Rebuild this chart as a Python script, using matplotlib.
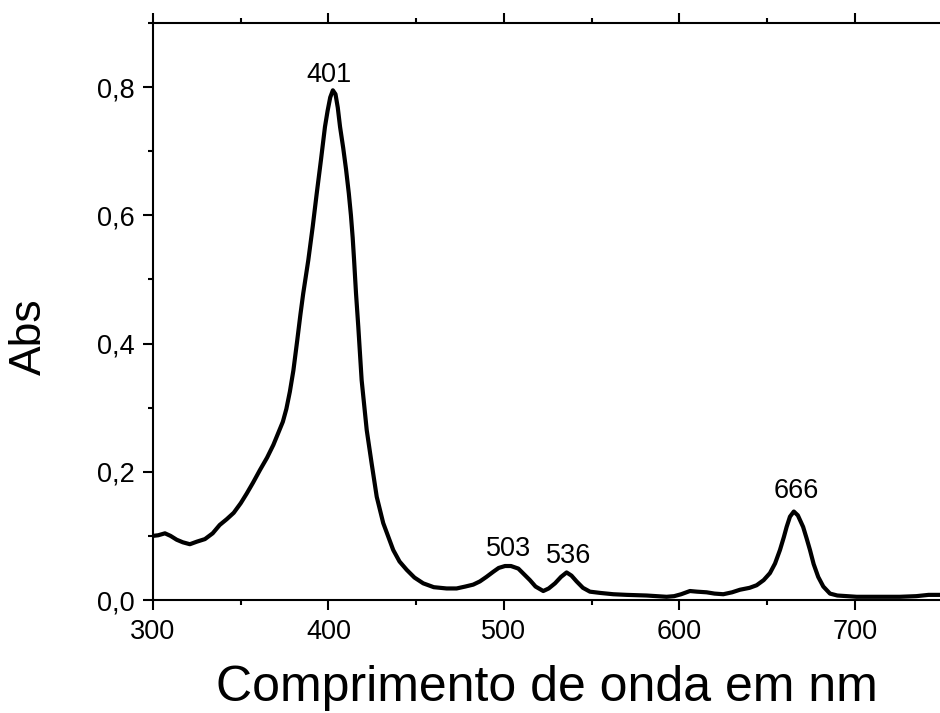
import matplotlib
matplotlib.use("Agg")
import matplotlib.pyplot as plt
from matplotlib.ticker import MultipleLocator, FuncFormatter

plt.rcParams['font.family'] = ['Liberation Sans', 'DejaVu Sans']

wavelength = [300, 303, 306.8, 310, 313.5, 317, 321, 325, 329.6, 334, 338, 342, 346, 350,
              353.4, 357, 361, 365, 368.6, 371, 374, 376, 378, 380, 382.2, 384, 385.6,
              388.5, 391, 393.3, 395.7, 398, 399.5, 401, 402.5, 404, 405.3, 406.6, 408.4,
              410, 411.6, 412.8, 413.8, 414.6, 415.7, 417, 418.9, 421.8, 424.6, 427.5,
              431.2, 436.9, 440.5, 444.6, 449, 454, 460, 467.3, 473, 478, 482.5, 486.3,
              490, 493.9, 497, 500.6, 504, 508.2, 511.5, 514.8, 518, 522.4, 525.5, 529.1,
              532.5, 535.7, 538.5, 541.4, 545, 549, 555, 562.3, 570, 581.3, 592.7, 597,
              601, 606, 610, 615.5, 620, 625, 630, 634.5, 640, 644, 648, 651.6, 654.5,
              657.3, 659.5, 661.1, 663, 665.2, 667.5, 670.5, 672.5, 674.4, 676.5, 679.1,
              682, 685.8, 690, 701, 710, 725.6, 735, 742, 750]
absorbance = [0.100, 0.101, 0.104, 0.100, 0.094, 0.090, 0.087, 0.091, 0.095, 0.104, 0.117,
              0.126, 0.136, 0.151, 0.166, 0.183, 0.203, 0.222, 0.242, 0.258, 0.278, 0.298,
              0.325, 0.358, 0.405, 0.445, 0.478, 0.530, 0.582, 0.634, 0.686, 0.738, 0.763,
              0.784, 0.795, 0.789, 0.768, 0.738, 0.705, 0.672, 0.634, 0.600, 0.565, 0.530,
              0.478, 0.426, 0.343, 0.265, 0.213, 0.161, 0.120, 0.078, 0.060, 0.047, 0.035,
              0.026, 0.020, 0.018, 0.018, 0.021, 0.024, 0.029, 0.036, 0.044, 0.050, 0.053,
              0.053, 0.049, 0.040, 0.031, 0.021, 0.014, 0.018, 0.026, 0.036, 0.043, 0.038,
              0.029, 0.019, 0.013, 0.011, 0.009, 0.008, 0.007, 0.005, 0.006, 0.009, 0.014,
              0.013, 0.012, 0.010, 0.009, 0.012, 0.016, 0.019, 0.023, 0.031, 0.042, 0.057,
              0.078, 0.098, 0.114, 0.130, 0.138, 0.132, 0.114, 0.096, 0.078, 0.056, 0.036,
              0.021, 0.010, 0.007, 0.005, 0.005, 0.005, 0.006, 0.008, 0.008]

peak_labels = ["401", "503", "536", "666"]
peak_label_x = [400.4, 502.5, 536.6, 666.8]
peak_label_y = [0.808, 0.068, 0.057, 0.159]

fig = plt.figure(figsize=(9.4, 7.13), dpi=100)
ax = fig.add_axes([153/940, 113/713, 787/940, 577/713])

ax.plot(wavelength, absorbance, color='black', lw=3.0,
        solid_joinstyle='round', solid_capstyle='round')

for lab, lx, ly in zip(peak_labels, peak_label_x, peak_label_y):
    ax.text(lx, ly, lab, ha='center', va='baseline', fontsize=19.5)

ax.set_xlim(300, 748.5)
ax.set_ylim(0, 0.9)
ax.xaxis.set_major_locator(MultipleLocator(100))
ax.xaxis.set_minor_locator(MultipleLocator(50))
ax.yaxis.set_major_locator(MultipleLocator(0.2))
ax.yaxis.set_minor_locator(MultipleLocator(0.1))
ax.yaxis.set_major_formatter(FuncFormatter(lambda v, p: f"{v:.1f}".replace('.', ',')))

ax.spines['right'].set_visible(False)
for s in ['left', 'bottom', 'top']:
    ax.spines[s].set_linewidth(1.5)

ax.tick_params(which='both', direction='out', width=1.5, top=True, right=False,
               labeltop=False, labelsize=19.5)
ax.tick_params(which='major', length=7.5)
ax.tick_params(which='minor', length=3.6)
ax.tick_params(axis='x', which='major', pad=6)
ax.tick_params(axis='y', which='major', pad=6)

ax.set_xlabel("Comprimento de onda em nm", fontsize=36)
ax.xaxis.set_label_coords(0.5, (713 - 688 - 113) / 577)
ax.xaxis.label.set_va('center')

ax.set_ylabel("Abs", fontsize=32)
ax.yaxis.label.set_va('center')
ax.yaxis.set_label_coords((29 - 153) / 787, (376 - 113) / 577)

fig.savefig("out.png", dpi=100)
